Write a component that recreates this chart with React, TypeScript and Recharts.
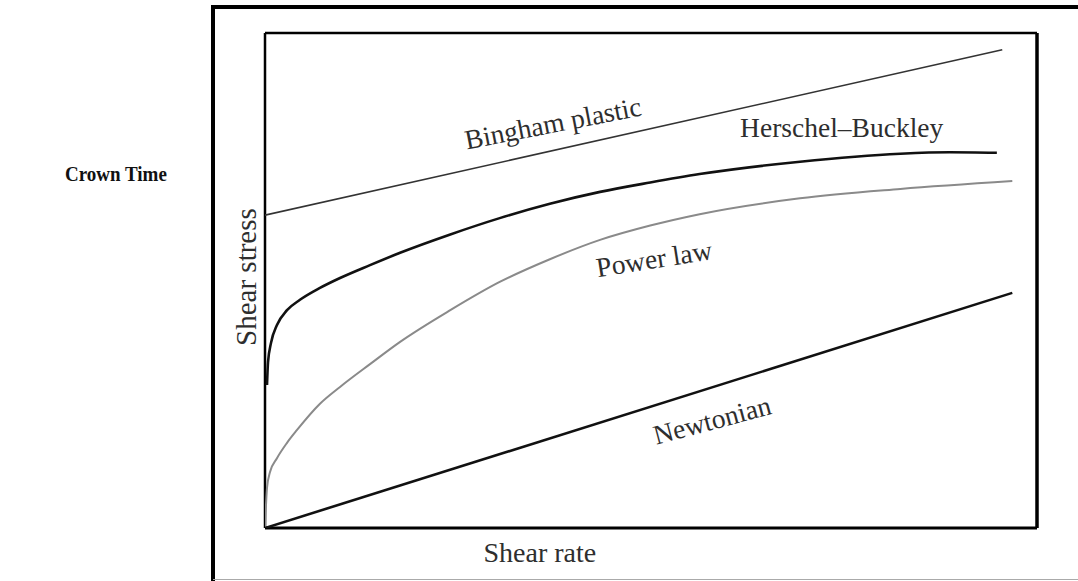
import React from 'react';
import { LineChart, Line, XAxis, YAxis, ReferenceLine, ReferenceDot } from 'recharts';

// rheology curves, x = shear rate, y = shear stress (arbitrary 0-100 units)
const newtonianX = [0, 96.8];
const newtonianY = [0, 47.5];

const binghamX = [0, 95.5];
const binghamY = [63.2, 96.6];

const powerX = [0, 0.26, 0.65, 1.55, 2.85, 4.15, 7.12, 9.72, 13.6, 17.5, 24.0, 30.4, 36.9, 43.4, 49.9, 56.3, 69.3, 82.3, 96.8];
const powerY = [0, 8.1, 11.3, 14.1, 17.2, 19.8, 25.1, 28.5, 33.1, 37.6, 44.0, 49.7, 54.3, 58.2, 61.1, 63.4, 66.6, 68.5, 70.1];

const herschelX = [0.26, 0.39, 0.78, 1.55, 2.85, 4.53, 7.12, 9.72, 13.6, 17.5, 24.0, 30.4, 36.9, 43.4, 49.9, 56.3, 69.3, 82.3, 88.7, 94.8];
const herschelY = [28.9, 33.5, 37.4, 41.0, 44.0, 46.1, 48.5, 50.5, 53.1, 55.6, 59.3, 62.6, 65.5, 67.9, 69.8, 71.5, 74.0, 75.6, 75.9, 75.8];

// curve labels placed in data space
const labelTexts = ['Bingham plastic', 'Herschel\u2013Buckley', 'Power law', 'Newtonian'];
const labelX = [37.3, 74.7, 50.4, 57.9];
const labelY = [81.8, 81.0, 54.4, 21.8];
const labelAngles = [-11, 0, -9, -15];

const xAxisTitle = 'Shear rate';
const yAxisTitle = 'Shear stress';

const zip = (xs: number[], ys: number[]) => xs.map((x, i) => ({ x, y: ys[i] }));

const FONT = '"Liberation Serif", "DejaVu Serif", serif';
const TEXT_COLOR = '#2e2e2e';

const rotatedText = (text: string, angle: number, size: number) => (props: any) => {
    const vb = props.viewBox || {};
    const cx = (vb.x ?? 0) + (vb.width ?? 0) / 2;
    const cy = (vb.y ?? 0) + (vb.height ?? 0) / 2;
    return (
        <text
            x={cx}
            y={cy}
            transform={`rotate(${angle} ${cx} ${cy})`}
            textAnchor="middle"
            dominantBaseline="central"
            fontFamily={FONT}
            fontSize={size}
            fill={TEXT_COLOR}
        >
            {text}
        </text>
    );
};

const line = (style: React.CSSProperties) => (
    <div style={{ position: 'absolute', background: '#000', ...style }} />
);

export default function App() {
    return (
        <div style={{ position: 'absolute', left: 0, top: 0, width: 1078, height: 581, background: '#fff', overflow: 'hidden' }}>
            <div
                style={{
                    position: 'absolute',
                    left: 65,
                    top: 162,
                    fontFamily: FONT,
                    fontWeight: 'bold',
                    fontSize: 19,
                    transform: 'scaleY(1.1)',
                    transformOrigin: 'left top',
                    color: '#111',
                }}
            >
                Crown Time
            </div>

            {/* outer frame */}
            {line({ left: 211, top: 5, width: 4, height: 576 })}
            {line({ left: 211, top: 5, width: 867, height: 4 })}
            {line({ left: 213, top: 579, width: 865, height: 1, background: '#aaa' })}

            <div style={{ position: 'absolute', left: 0, top: 0 }}>
                <LineChart width={1078} height={581} margin={{ top: 33, right: 41, bottom: 53, left: 265 }}>
                    <XAxis type="number" dataKey="x" domain={[0, 100]} hide allowDataOverflow />
                    <YAxis type="number" dataKey="y" domain={[0, 100]} hide allowDataOverflow />

                    {/* plot box */}
                    <ReferenceLine x={0} stroke="#000" strokeWidth={2.5} />
                    <ReferenceLine y={100} stroke="#000" strokeWidth={2.5} />
                    <ReferenceLine x={100} stroke="#000" strokeWidth={3.5} />
                    <ReferenceLine y={0} stroke="#000" strokeWidth={3} />

                    <Line data={zip(binghamX, binghamY)} dataKey="y" type="linear" stroke="#333" strokeWidth={1.6} dot={false} isAnimationActive={false} />
                    <Line data={zip(herschelX, herschelY)} dataKey="y" type="monotone" stroke="#111" strokeWidth={2.6} dot={false} isAnimationActive={false} />
                    <Line data={zip(powerX, powerY)} dataKey="y" type="monotone" stroke="#8a8a8a" strokeWidth={2} dot={false} isAnimationActive={false} />
                    <Line data={zip(newtonianX, newtonianY)} dataKey="y" type="linear" stroke="#111" strokeWidth={2.6} dot={false} isAnimationActive={false} />

                    {labelTexts.map((t, i) => (
                        <ReferenceDot
                            key={t}
                            x={labelX[i]}
                            y={labelY[i]}
                            r={0}
                            fill="none"
                            stroke="none"
                            ifOverflow="visible"
                            label={{ content: rotatedText(t, labelAngles[i], 27.5) }}
                        />
                    ))}
                    <ReferenceDot x={35.6} y={-4.85} r={0} fill="none" stroke="none" ifOverflow="visible" label={{ content: rotatedText(xAxisTitle, 0, 28) }} />
                    <ReferenceDot x={-2.5} y={50.7} r={0} fill="none" stroke="none" ifOverflow="visible" label={{ content: rotatedText(yAxisTitle, -90, 29) }} />
                </LineChart>
            </div>
        </div>
    );
}
